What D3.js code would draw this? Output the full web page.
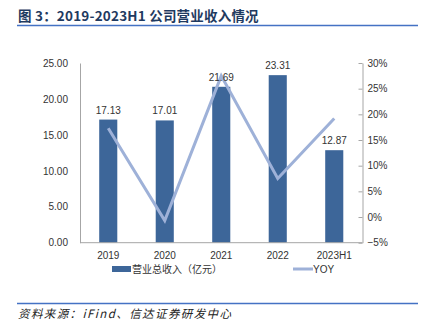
<!DOCTYPE html>
<html><head><meta charset="utf-8">
<script src="https://cdn.jsdelivr.net/npm/d3@7/dist/d3.min.js"></script>
<style>body{margin:0;background:#fff;}svg{display:block;font-family:"Noto Sans CJK SC","DejaVu Sans",sans-serif;}</style>
</head><body>
<script>
const categories = ["2019","2020","2021","2022","2023H1"];
const revenue = [17.13, 17.01, 21.69, 23.31, 12.87];
const yoy = [0.173, -0.007, 0.275, 0.075, 0.192];
const leftTicks = [0, 5, 10, 15, 20, 25];
const rightTicks = [-0.05, 0, 0.05, 0.10, 0.15, 0.20, 0.25, 0.30];
const titleText = "图 3：2019-2023H1 公司营业收入情况";
const sourceText = "资料来源：iFind、信达证券研发中心";
const legendLabels = ["营业总收入（亿元）", "YOY"];

const W = 423, H = 327;
const svg = d3.select("body").append("svg").attr("width", W).attr("height", H);
const L = 80, R = 362.5, T = 63, B = 242.7;

const x = d3.scaleBand().domain(categories).range([L, R]).paddingInner(0.68).paddingOuter(0.34);
const yL = d3.scaleLinear().domain([0, 25]).range([B, T]);
const yR = d3.scaleLinear().domain([-0.05, 0.30]).range([B, T]);

// title
svg.append("text").attr("x", 18).attr("y", 21).text(titleText)
  .attr("font-size", 13.5).attr("font-weight", "bold").attr("fill", "#1F3A60").attr("letter-spacing", 0.2);
svg.append("line").attr("x1", 17).attr("x2", 418).attr("y1", 25.5).attr("y2", 25.5)
  .attr("stroke", "#4472C4").attr("stroke-width", 1.5);

// left axis
const la = svg.append("g").attr("transform", `translate(${L},0)`)
  .call(d3.axisLeft(yL).tickValues(leftTicks).tickFormat(d3.format(".2f")).tickSize(0).tickPadding(12));
la.select(".domain").attr("stroke", "#A6A6A6");
la.selectAll("text").attr("font-family", "Liberation Sans, Arial, sans-serif").attr("font-size", 10).attr("fill", "#333");

// right axis
const ra = svg.append("g").attr("transform", `translate(${R},0)`)
  .call(d3.axisRight(yR).tickValues(rightTicks).tickFormat(d3.format(".0%")).tickSizeInner(-4).tickSizeOuter(0).tickPadding(5));
ra.select(".domain").attr("stroke", "#A6A6A6");
ra.selectAll(".tick line").attr("stroke", "#A6A6A6");
ra.selectAll("text").attr("font-family", "Liberation Sans, Arial, sans-serif").attr("font-size", 10).attr("fill", "#333");

// bars
svg.selectAll("rect.bar").data(categories).enter().append("rect").attr("class", "bar")
  .attr("x", d => x(d)).attr("width", x.bandwidth())
  .attr("y", (d, i) => yL(revenue[i])).attr("height", (d, i) => B - yL(revenue[i]))
  .attr("fill", "#3D6699");

// bottom axis
const ba = svg.append("g").attr("transform", `translate(0,${B})`)
  .call(d3.axisBottom(x).tickSize(0).tickPadding(9));
ba.select(".domain").attr("stroke", "#A6A6A6").attr("d", `M${L},0H${R}`);
ba.selectAll("text").attr("font-family", "Liberation Sans, Arial, sans-serif").attr("font-size", 10).attr("fill", "#333");

// line
const line = d3.line().x((d, i) => x(categories[i]) + x.bandwidth() / 2).y(d => yR(d));
svg.append("path").datum(yoy).attr("d", line).attr("fill", "none")
  .attr("stroke", "#9EB1D8").attr("stroke-width", 3).attr("stroke-linejoin", "miter");

// labels
svg.selectAll("text.lbl").data(categories).enter().append("text").attr("class", "lbl")
  .attr("x", d => x(d) + x.bandwidth() / 2).attr("y", (d, i) => yL(revenue[i]) - 6)
  .attr("text-anchor", "middle").attr("font-family", "Liberation Sans, Arial, sans-serif")
  .attr("font-size", 10).attr("fill", "#333").text((d, i) => revenue[i].toFixed(2));

// legend
svg.append("rect").attr("x", 112).attr("y", 266).attr("width", 19).attr("height", 6).attr("fill", "#3D6699");
svg.append("text").attr("x", 132).attr("y", 273).text(legendLabels[0]).attr("font-size", 10).attr("fill", "#333");
svg.append("line").attr("x1", 293).attr("x2", 313).attr("y1", 269).attr("y2", 269).attr("stroke", "#9EB1D8").attr("stroke-width", 3);
svg.append("text").attr("x", 313).attr("y", 273).text(legendLabels[1]).attr("font-family", "Liberation Sans, Arial, sans-serif").attr("font-size", 10).attr("fill", "#333");

// source
svg.append("line").attr("x1", 17).attr("x2", 418).attr("y1", 303.5).attr("y2", 303.5)
  .attr("stroke", "#4472C4").attr("stroke-width", 1.5);
svg.append("text").attr("x", 18).attr("y", 318).text(sourceText)
  .attr("font-size", 11.5).attr("font-style", "italic").attr("fill", "#222").attr("letter-spacing", 1.4);
</script>
</body></html>
